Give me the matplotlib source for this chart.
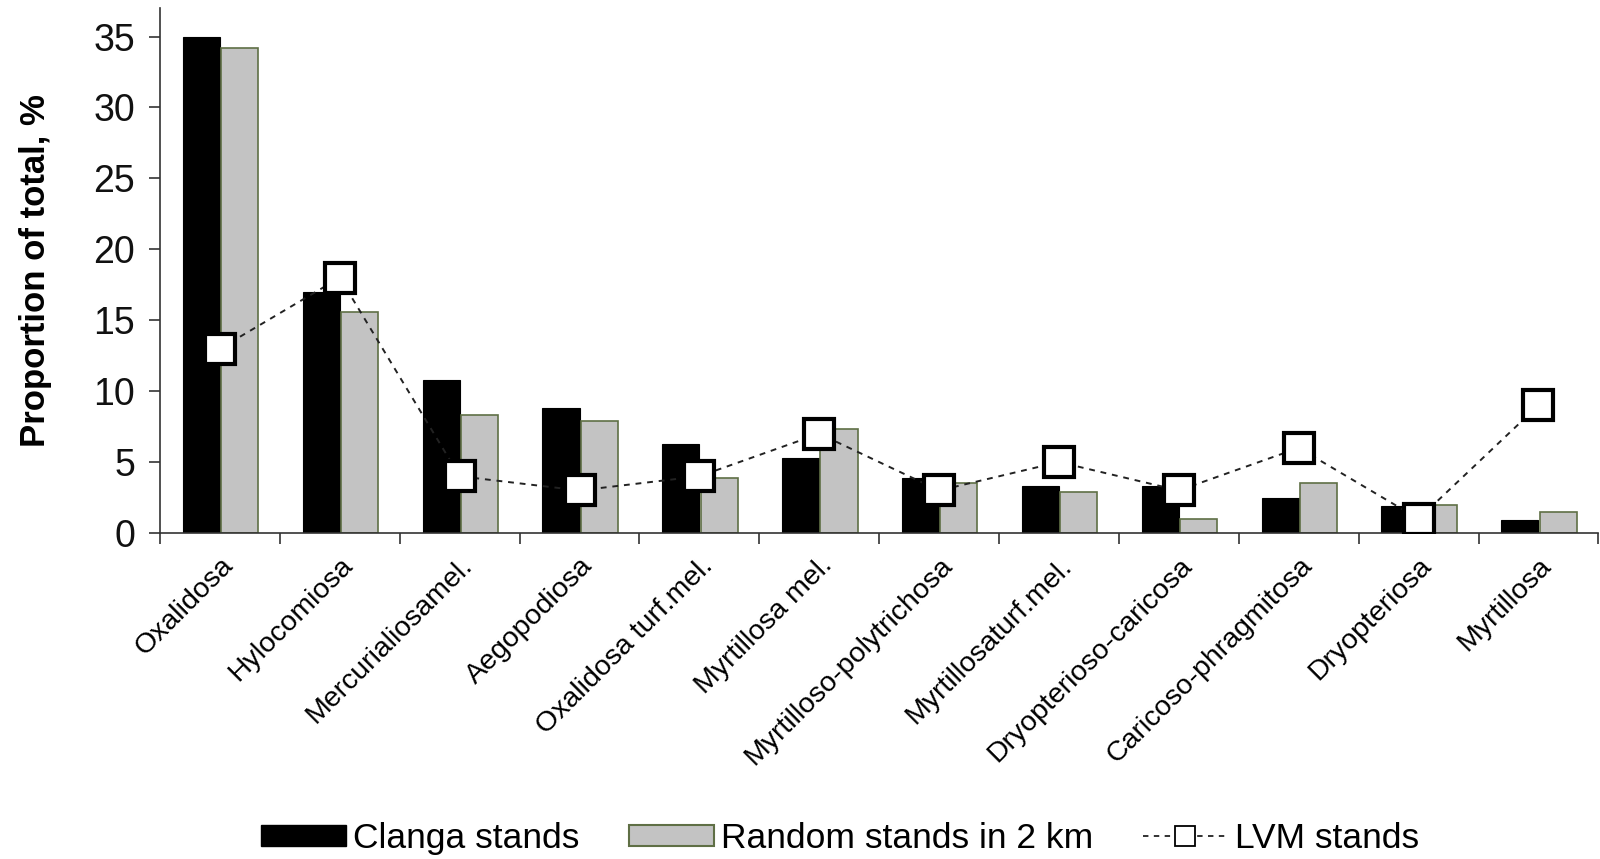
import numpy as np
import matplotlib
matplotlib.use("Agg")
import matplotlib.pyplot as plt
from matplotlib.lines import Line2D
from matplotlib.patches import Patch

plt.rcParams['font.family'] = ['Liberation Sans', 'DejaVu Sans']

categories = ['Oxalidosa', 'Hylocomiosa', 'Mercurialiosamel.', 'Aegopodiosa',
              'Oxalidosa turf.mel.', 'Myrtillosa mel.', 'Myrtilloso-polytrichosa',
              'Myrtillosaturf.mel.', 'Dryopterioso-caricosa', 'Caricoso-phragmitosa',
              'Dryopteriosa', 'Myrtillosa']
clanga = [35.0, 17.0, 10.8, 8.8, 6.3, 5.3, 3.9, 3.3, 3.3, 2.5, 1.9, 0.9]
random_2km = [34.2, 15.6, 8.3, 7.9, 3.9, 7.3, 3.5, 2.9, 1.0, 3.5, 2.0, 1.5]
lvm = [13, 18, 4, 3, 4, 7, 3, 5, 3, 6, 1, 9]

x = np.arange(len(categories))
w = 0.31

fig = plt.figure(figsize=(16, 8.59), dpi=100)
ax = fig.add_axes([0.1, 0.3795, 0.899, 0.611])

ax.bar(x - w / 2, clanga, w, color='black', edgecolor='black', linewidth=0.8, zorder=2)
ax.bar(x + w / 2 + 0.01, random_2km, w, color='#c3c3c3', edgecolor='#5f6f45', linewidth=1.2, zorder=2)
ax.plot(x, lvm, color='#222222', linestyle=(0, (3, 3)), linewidth=1.4,
        marker='s', markersize=22, markerfacecolor='white', markeredgecolor='black',
        markeredgewidth=3, zorder=3)

ax.set_xlim(-0.5, len(categories) - 0.5)
ax.set_ylim(0, 37)
ax.set_yticks(np.arange(0, 36, 5))
ax.tick_params(axis='y', labelsize=27, length=8, width=1.2, direction='out', pad=10,
               color='#333333', labelcolor='#111111')

ax.set_xticks(x)
ax.set_xticklabels(categories, rotation=45, ha='right', rotation_mode='anchor', fontsize=20.5)
ax.tick_params(axis='x', length=0, pad=14)
ax.set_xticks(np.arange(-0.5, len(categories)), minor=True)
ax.tick_params(axis='x', which='minor', length=8, width=1.2, color='#333333')

for s in ['top', 'right']:
    ax.spines[s].set_visible(False)
for s in ['left', 'bottom']:
    ax.spines[s].set_linewidth(1.2)
    ax.spines[s].set_color('#333333')

ax.set_ylabel('Proportion of total, %', fontsize=25, fontweight='bold', labelpad=30)

handles = [
    Patch(facecolor='black', edgecolor='black'),
    Patch(facecolor='#c3c3c3', edgecolor='#5f6f45', linewidth=1.5),
    Line2D([0], [0], color='#222222', linestyle=(0, (3, 3)), linewidth=1.3, marker='s',
           markersize=14, markerfacecolor='white', markeredgecolor='black', markeredgewidth=1.3),
]
fig.legend(handles, ['Clanga stands', 'Random stands in 2 km', 'LVM stands'],
           loc='center', bbox_to_anchor=(0.525, 0.024), ncol=3, frameon=False,
           fontsize=25.5, handlelength=2.4, handleheight=0.55, handletextpad=0.2,
           columnspacing=1.4, numpoints=1)

fig.savefig('out.png', dpi=100)
